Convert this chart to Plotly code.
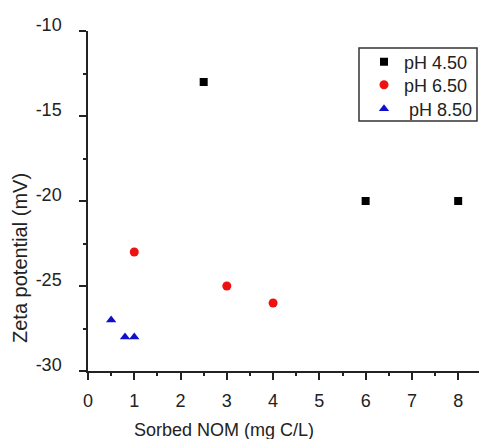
import plotly.graph_objects as go

# Zeta potential vs. sorbed NOM at three pH levels
series_names = ["pH 4.50", "pH 6.50", "\u00a0pH 8.50"]
nom_ph45 = [2.5, 6.0, 8.0]
zeta_ph45 = [-13, -20, -20]
nom_ph65 = [1.0, 3.0, 4.0]
zeta_ph65 = [-23, -25, -26]
nom_ph85 = [0.5, 0.8, 1.0]
zeta_ph85 = [-27, -28, -28]

x_ticks = [0, 1, 2, 3, 4, 5, 6, 7, 8]
y_ticks = [-30, -25, -20, -15, -10]
y_tick_text = ["-30", "-25", "-20", "-15", "-10"]

FONT = "Liberation Sans, Arial, sans-serif"
INK = "#222222"

# plot-area geometry in pixels
W, H = 479, 439
L, R, T, B = 88, 0, 31, 68
PW, PH = W - L - R, H - T - B


def px_x(x):
    return (x - L) / PW


def px_y(y):
    return (H - B - y) / PH


fig = go.Figure()
fig.add_trace(go.Scatter(x=nom_ph45, y=zeta_ph45, mode="markers", name=series_names[0],
                         legend="legend",
                         marker=dict(symbol="square", size=8, color="black")))
fig.add_trace(go.Scatter(x=nom_ph65, y=zeta_ph65, mode="markers", name=series_names[1],
                         legend="legend2",
                         marker=dict(symbol="circle", size=9, color="#ee1111")))
fig.add_trace(go.Scatter(x=nom_ph85, y=zeta_ph85, mode="markers", name=series_names[2],
                         legend="legend3",
                         marker=dict(symbol="triangle-up", size=9, color="#1010cc")))

axis_common = dict(showgrid=False, zeroline=False, showline=True, linecolor=INK, linewidth=1.5,
                   ticks="outside", ticklen=7, tickwidth=1.5, tickcolor=INK,
                   tickfont=dict(family=FONT, size=18, color=INK))

fig.update_xaxes(range=[0, 8.45], tickvals=x_ticks, ticklabelstandoff=6,
                 minor=dict(dtick=0.5, tick0=0, ticks="outside", ticklen=3, tickwidth=1.5, tickcolor=INK),
                 **axis_common)
fig.update_yaxes(range=[-30, -10], tickvals=y_ticks, ticktext=y_tick_text,
                 ticklabelstandoff=14, ticklabelshift=-6,
                 minor=dict(dtick=2.5, tick0=-30, ticks="outside", ticklen=3, tickwidth=1.5, tickcolor=INK),
                 **axis_common)

fig.add_annotation(text="Sorbed NOM (mg C/L)", xref="paper", yref="paper", x=px_x(224),
                   y=px_y(430), xanchor="center", yanchor="middle", showarrow=False,
                   font=dict(family=FONT, size=18, color=INK))
fig.add_annotation(text="Zeta potential (mV)", xref="paper", yref="paper", x=px_x(20),
                   y=px_y(258), xanchor="center", yanchor="middle", textangle=-90,
                   showarrow=False, font=dict(family=FONT, size=20, color=INK))

# legend frame
fig.add_shape(type="rect", xref="paper", yref="paper",
              x0=px_x(359), x1=px_x(477), y0=px_y(121), y1=px_y(48),
              line=dict(color="#333333", width=1.5), fillcolor="white", layer="below")


def legend_row(y_px):
    return dict(x=px_x(364), y=px_y(y_px), xanchor="left", yanchor="middle",
                borderwidth=0, bgcolor="rgba(0,0,0,0)",
                font=dict(family=FONT, size=18, color=INK), itemwidth=30)


fig.update_layout(
    width=W, height=H,
    margin=dict(l=L, r=R, t=T, b=B),
    paper_bgcolor="white", plot_bgcolor="white",
    showlegend=True,
    legend=legend_row(62),
    legend2=legend_row(85),
    legend3=legend_row(109),
)

fig.write_html("out.html")
